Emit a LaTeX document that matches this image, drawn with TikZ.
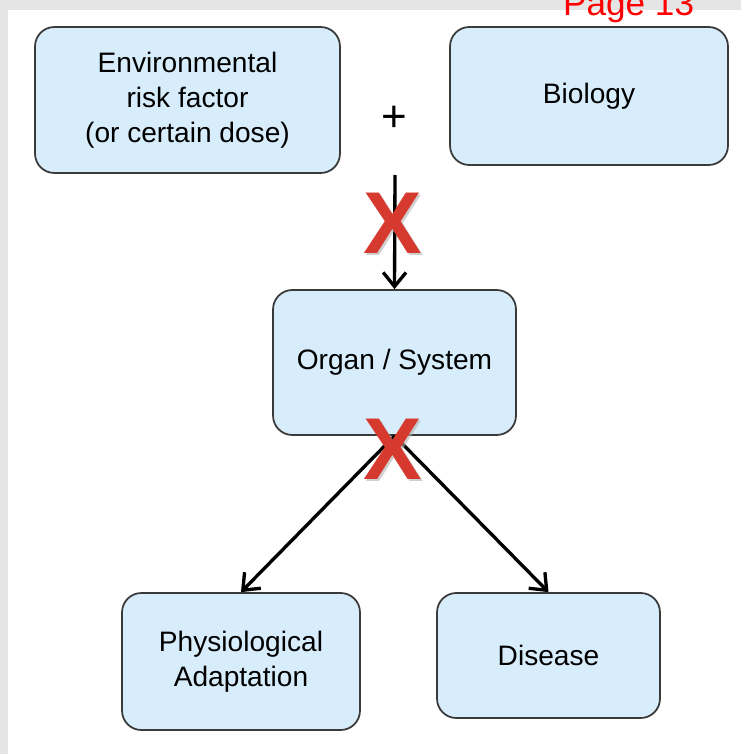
\documentclass[tikz,border=0pt]{standalone}
\usepackage{fontspec}
\setmainfont{Liberation Sans}
\usetikzlibrary{positioning,arrows.meta}
\definecolor{boxblue}{HTML}{D8EDFB}
\definecolor{boxline}{HTML}{3A3A3A}
\definecolor{crossred}{HTML}{D63A2F}
\tikzset{
  box/.style={draw=boxline, fill=boxblue, line width=1pt, rounded corners=11pt,
    align=center, inner sep=0pt, font=\fontsize{16}{20}\selectfont},
  flow/.style={draw=black, line width=1.9pt, -{Straight Barb[length=8pt,width=13pt,line width=1.9pt]}},
  cross/.style={text=crossred, font=\fontsize{50}{50}\selectfont\bfseries, inner sep=0pt},
  crossshadow/.style={cross, text=black!30, opacity=0.6}
}
\begin{document}
\begin{tikzpicture}[x=0.02cm, y=-0.02cm]
    \useasboundingbox (0,0) rectangle (741,754);
    \fill[black!10] (0,0) rectangle (741,754);
    \fill[white] (8,10) rectangle (741,754);

    \node[box, minimum width=6.1cm, minimum height=2.92cm] (env) at (187.5,100) {Environmental\\risk factor\\(or certain dose)};
    \node[box, minimum width=5.56cm, minimum height=2.76cm] (bio) at (589,96) {Biology};
    \node[font=\fontsize{25}{25}\selectfont, inner sep=0pt] (plus) at (394.5,119) {+};
    \node[box, minimum width=4.86cm, minimum height=2.9cm] (organ) at (394.5,362.5) {Organ / System};
    \node[box, minimum width=4.76cm, minimum height=2.74cm] (phys) at (241,661.5) {Physiological\\Adaptation};
    \node[box, minimum width=4.46cm, minimum height=2.5cm] (dis) at (548.5,655.5) {Disease};
    \node[anchor=base west, text=red, font=\fontsize{20}{24}\selectfont] (page) at (557,15) {Page 13};

    \coordinate (join) at (395,175);
    \draw[flow] (join) -- (organ.north);
    \draw[flow] (organ.south) -- (phys.north);
    \draw[flow] (organ.south) -- (dis.north);

    % red crosses
    \node[crossshadow] (x1s) at (394.5,225.5) {X};
    \node[cross] (x1) at (392.5,223.5) {X};
    \node[crossshadow] (x2s) at (394.5,451.5) {X};
    \node[cross] (x2) at (392.5,449.5) {X};
\end{tikzpicture}
\end{document}
